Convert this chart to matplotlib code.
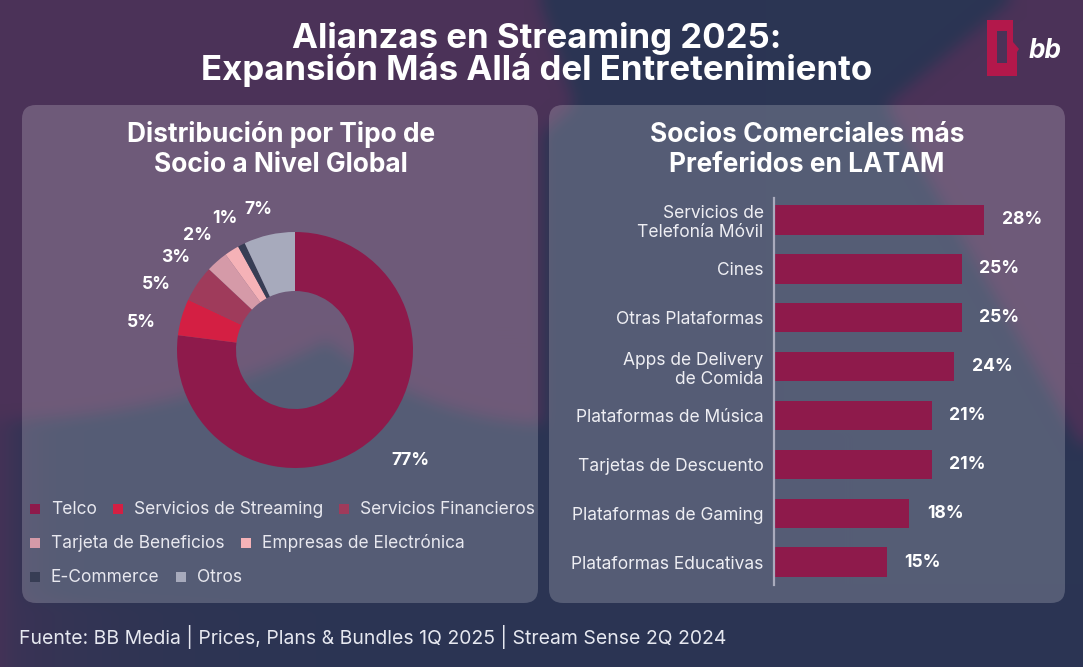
import numpy as np
import matplotlib
matplotlib.use("Agg")
import matplotlib.pyplot as plt
from matplotlib.patches import FancyBboxPatch, PathPatch, Rectangle
from matplotlib.path import Path

# ---------------- data ----------------
donut_labels = ["Telco", "Servicios de Streaming", "Servicios Financieros",
                "Tarjeta de Beneficios", "Empresas de Electrónica", "E-Commerce", "Otros"]
donut_values = [77, 5, 5, 3, 2, 1, 7]
donut_colors = ["#8e1a4b", "#d41f43", "#9f3b5b", "#d59aa8", "#f5b2b7", "#373d54", "#a7aabc"]

bar_categories = ["Servicios de\nTelefonía Móvil", "Cines", "Otras Plataformas",
                  "Apps de Delivery\nde Comida", "Plataformas de Música",
                  "Tarjetas de Descuento", "Plataformas de Gaming", "Plataformas Educativas"]
bar_values = [28, 25, 25, 24, 21, 21, 18, 15]

title_lines = ["Alianzas en Streaming 2025:", "Expansión Más Allá del Entretenimiento"]
left_title = ["Distribución por Tipo de", "Socio a Nivel Global"]
right_title = ["Socios Comerciales más", "Preferidos en LATAM"]
footer = "Fuente: BB Media | Prices, Plans & Bundles 1Q 2025 | Stream Sense 2Q 2024"

# ---------------- figure ----------------
plt.rcParams["font.family"] = ["Inter", "DejaVu Sans"]
W, H = 1083, 667
fig = plt.figure(figsize=(W / 100, H / 100), dpi=100)
ax0 = fig.add_axes([0, 0, 1, 1])
ax0.set_xlim(0, W)
ax0.set_ylim(H, 0)
ax0.axis("off")
rend = fig.canvas.get_renderer()

# ---------------- background ----------------
yy, xx = np.mgrid[0:H, 0:W] + 0.5
m1 = np.hypot(xx - 560, yy - 60) < 365
m2 = (xx / 560) ** 2 + (yy / 420) ** 2 < 1
xb = np.where(yy > 105, 886 + 0.57 * (yy - 105), 886 + (105 - yy) * 1.2)
m5 = (xx > xb) & (yy < 405 + (xx - 1045) * 1.08)
xl = np.where(yy < 105, 540 + 0.33 * yy, np.maximum(575 - (yy - 105) * 1.1, 543))
band = (xx > xl) & (xx < xb)
wgt = ((m1 | m2) & ~band) | m5
wgt = wgt.astype(float)
wgt = np.maximum(wgt, 0.85 * np.exp(-xx / 25))
wgt = np.maximum(wgt, 0.55 * np.exp(-xx / 110) * (yy > 600))


def box_blur(a, r):
    k = 2 * r + 1
    p = np.pad(a, r, mode="edge")
    c = np.cumsum(p, axis=0)
    c = np.vstack([np.zeros((1, c.shape[1])), c])
    a1 = (c[k:] - c[:-k]) / k
    c = np.cumsum(a1, axis=1)
    c = np.hstack([np.zeros((c.shape[0], 1)), c])
    return (c[:, k:] - c[:, :-k]) / k


wgt = box_blur(box_blur(wgt, 8), 8)
purple = np.array([0x4b, 0x32, 0x58]) / 255
navy = np.array([0x2b, 0x35, 0x53]) / 255
bg = navy[None, None, :] * (1 - wgt[..., None]) + purple[None, None, :] * wgt[..., None]
ax0.imshow(bg, extent=(0, W, H, 0), zorder=0, interpolation="bilinear", aspect="auto")

# panels
for x0 in (22, 549):
    ax0.add_patch(FancyBboxPatch((x0, 105), 516, 498,
                                 boxstyle="round,pad=0,rounding_size=14",
                                 fc=(1, 1, 1, 0.2), ec="none", zorder=1))


def fit(s, target, weight="normal", style="normal"):
    t = ax0.text(0, 0, s, fontsize=10, fontweight=weight, fontstyle=style)
    w = t.get_window_extent(renderer=rend).width
    t.remove()
    return 10 * target / w


def width_of(s, fs, weight="normal"):
    t = ax0.text(0, 0, s, fontsize=fs, fontweight=weight)
    w = t.get_window_extent(renderer=rend).width
    t.remove()
    return w


title_fs = fit(title_lines[1], 672, "bold")
panel_fs = fit(left_title[0], 308, "bold")
cat_fs = fit("Plataformas Educativas", 194)
leg_fs = fit("Servicios de Streaming", 190)
val_fs = fit("28%", 40, "bold")
foot_fs = fit(footer, 706)

# titles
ax0.text(537, 48, title_lines[0], ha="center", va="baseline", color="white",
         fontsize=title_fs, fontweight="bold", zorder=3)
ax0.text(537, 80, title_lines[1], ha="center", va="baseline", color="white",
         fontsize=title_fs, fontweight="bold", zorder=3)
for cx, lines in ((281, left_title), (807, right_title)):
    ax0.text(cx, 142, lines[0], ha="center", va="baseline", color="white",
             fontsize=panel_fs, fontweight="bold", zorder=3)
    ax0.text(cx, 172, lines[1], ha="center", va="baseline", color="white",
             fontsize=panel_fs, fontweight="bold", zorder=3)

# footer
ax0.text(19, 637, footer, ha="left", va="center", color="#e6e8f0", fontsize=foot_fs, zorder=3)

# logo
outer = [(987, 20), (1013, 20), (1013, 42), (1019, 49), (1017, 52), (1017, 76), (987, 76), (987, 20)]
hole = [(997, 31), (997, 63), (1007, 63), (1007, 31), (997, 31)]
verts = outer + hole
codes = ([Path.MOVETO] + [Path.LINETO] * (len(outer) - 2) + [Path.CLOSEPOLY] +
         [Path.MOVETO] + [Path.LINETO] * (len(hole) - 2) + [Path.CLOSEPOLY])
ax0.add_patch(PathPatch(Path(verts, codes), fc="#b3184b", ec="none", zorder=3))
ax0.text(1045, 58, "bb", ha="center", va="baseline", color="white",
         fontsize=fit("bb", 33, "bold", "italic"), fontweight="bold", fontstyle="italic", zorder=3)

# ---------------- donut ----------------
cx, cy, R = 295, 350, 118
axp = fig.add_axes([(cx - R) / W, 1 - (cy + R) / H, 2 * R / W, 2 * R / H])
wedges, _ = axp.pie(donut_values, colors=donut_colors, startangle=90, counterclock=False,
                    radius=1, wedgeprops=dict(width=0.5, edgecolor="none"))
axp.set_xlim(-1, 1)
axp.set_ylim(-1, 1)
axp.set_aspect("auto")
axp.axis("off")
label_shift = [4.9, 6, 9, 11, 8, 1, 2]
label_r = [1.35, 1.32, 1.30, 1.28, 1.27, 1.26, 1.23]
for wdg, v, sh, rr in zip(wedges, donut_values, label_shift, label_r):
    mid = np.deg2rad((wdg.theta1 + wdg.theta2) / 2 + sh)
    axp.text(rr * np.cos(mid), rr * np.sin(mid), f"{v}%", ha="center", va="center",
             color="white", fontsize=val_fs, fontweight="bold")

# legend (flow layout)
rows_y = [509, 543, 577]
x, row = 30, 0
for lab, col in zip(donut_labels, donut_colors):
    tw = width_of(lab, leg_fs)
    need = 21 + tw
    if x + need > 540 and x > 30:
        row += 1
        x = 30
    y = rows_y[row]
    ax0.add_patch(Rectangle((x, y - 5), 10, 10, fc=col, ec="none", zorder=3))
    ax0.text(x + 21, y, lab, ha="left", va="center", color="#e8e8ef", fontsize=leg_fs, zorder=3)
    x += need + 16

# ---------------- bars ----------------
px_per = 7.5
axb = fig.add_axes([774 / W, 1 - 585 / H, 285 / W, 387 / H])
axb.patch.set_alpha(0)
ypos = np.arange(len(bar_values))
axb.barh(ypos, bar_values, height=0.6, color="#8e1a4b")
axb.set_xlim(0, 285 / px_per)
axb.set_ylim(7.47, -0.45)
for s in ("top", "right", "bottom"):
    axb.spines[s].set_visible(False)
axb.spines["left"].set_color("#a9abbd")
axb.spines["left"].set_linewidth(1.6)
axb.set_xticks([])
axb.set_yticks(ypos)
axb.set_yticklabels(bar_categories, fontsize=cat_fs, color="#eeeef3", linespacing=1.15)
axb.tick_params(axis="y", length=0, pad=7.5)
for i, v in enumerate(bar_values):
    axb.text(v + 18 / px_per, i, f"{v}%", ha="left", va="center", color="white",
             fontsize=val_fs, fontweight="bold")

fig.savefig("out.png", dpi=100)
